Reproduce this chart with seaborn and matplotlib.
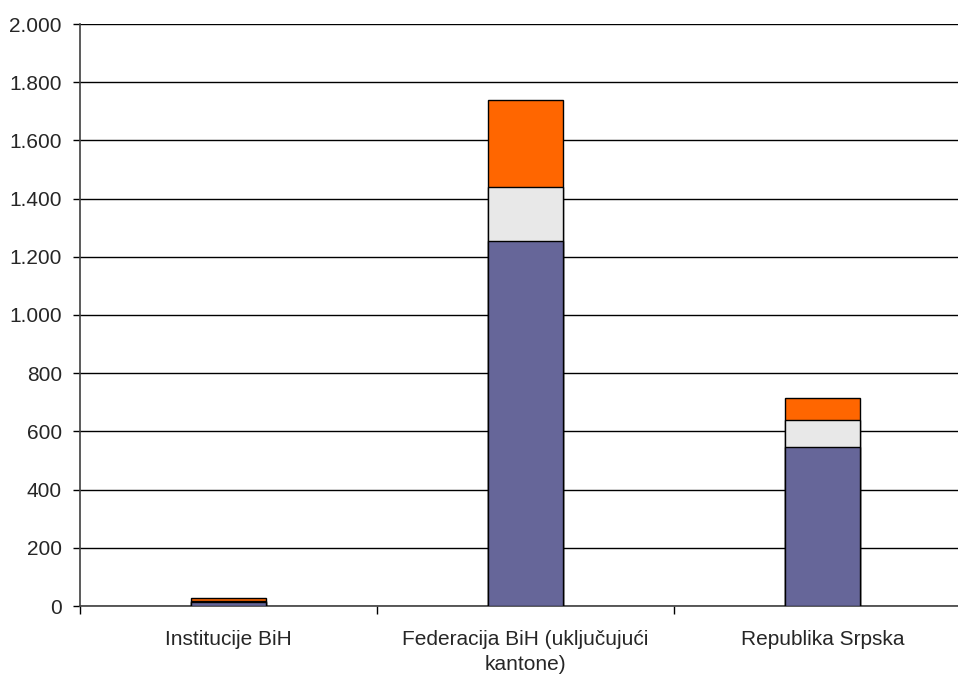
import matplotlib
matplotlib.use("Agg")
import matplotlib.pyplot as plt
import seaborn as sns
import pandas as pd
import numpy as np

categories = ["Institucije BiH", "Federacija BiH (uključujući\nkantone)", "Republika Srpska"]
series_blue = [15, 1255, 547]
series_grey = [1, 186, 92]
series_orange = [13, 298, 76]
y_ticks = [0, 200, 400, 600, 800, 1000, 1200, 1400, 1600, 1800, 2000]
y_tick_labels = ["0", "200", "400", "600", "800", "1.000", "1.200", "1.400", "1.600", "1.800", "2.000"]

sns.set_theme(style="white")
plt.rcParams['font.family'] = ['Liberation Sans', 'DejaVu Sans']

fig = plt.figure(figsize=(9.58, 6.78), dpi=100)
ax = fig.add_axes([80/958, 72/678, 891/958, 582/678])

blue = np.array(series_blue)
grey = np.array(series_grey)
orange = np.array(series_orange)

layers = [
    (blue + grey + orange, "#FF6600"),
    (blue + grey, "#E8E8E8"),
    (blue, "#666699"),
]
for vals, col in layers:
    df = pd.DataFrame({"cat": categories, "val": vals})
    sns.barplot(data=df, x="cat", y="val", color=col, saturation=1, width=0.25,
                edgecolor="black", linewidth=1, ax=ax, zorder=3)

ax.set_xlim(-0.5, 2.5)
ax.set_ylim(0, 2000)
ax.set_yticks(y_ticks)
ax.set_yticklabels(y_tick_labels, fontsize=15)
ax.set_xticks([0, 1, 2])
ax.set_xticklabels(categories, fontsize=15)
ax.tick_params(axis="x", length=0, pad=17)
ax.tick_params(axis="y", length=5, width=1, color="black", direction="out", left=True, pad=8)
for t in ax.get_xticklabels():
    t.set_linespacing(1.45)
# x boundary ticks
ax.set_xticks([-0.5, 0.5, 1.5], minor=True)
ax.tick_params(axis="x", which="minor", length=6, width=1, color="black", direction="out", bottom=True)

ax.set_xlabel("")
ax.set_ylabel("")
ax.grid(axis="y", color="black", linewidth=1, zorder=0)
ax.set_axisbelow(True)
for s in ["top", "right"]:
    ax.spines[s].set_visible(False)
ax.spines["left"].set_color("#404040")
ax.spines["bottom"].set_color("#404040")
ax.spines["left"].set_linewidth(1.2)
ax.spines["bottom"].set_linewidth(1.2)

fig.savefig("out.png", dpi=100, facecolor="white")
